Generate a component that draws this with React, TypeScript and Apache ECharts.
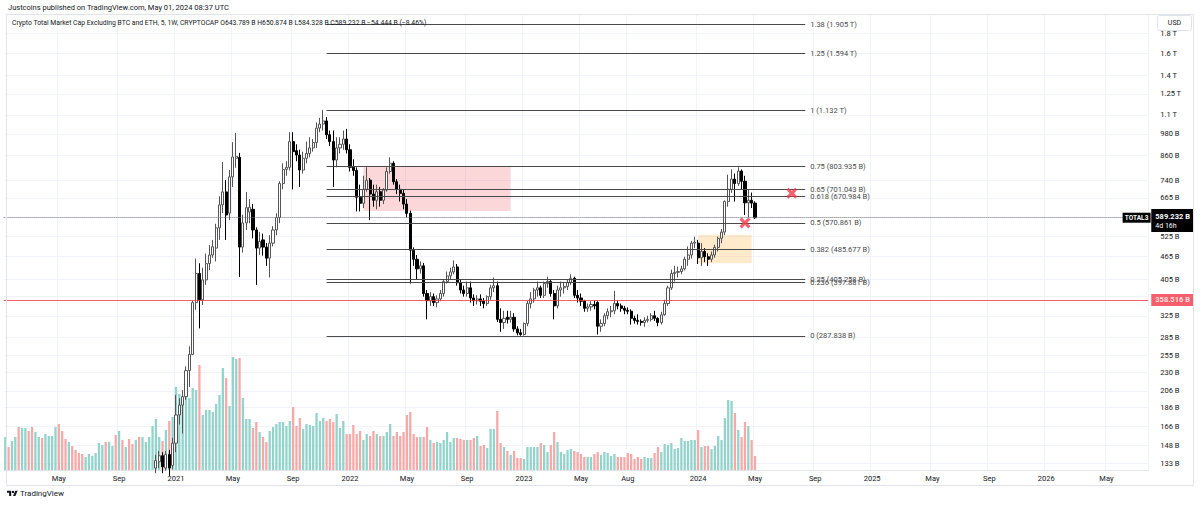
import React, { useEffect, useRef } from "react";
import * as echarts from "echarts";

// ---------- data ----------
const firstWeek = "2020-01-13";
const weekCount = 342; // includes empty future weeks on the right
const candleStartWeek = "2020-11-23";

// weekly candles [open, high, low, close] in billions USD (earlier weeks lie below the visible range)
const ohlc: [number, number, number, number][] = [
  [129, 140, 125, 135], [134, 143, 129, 139], [139, 142, 125, 130], [129, 143, 127, 140],
  [140, 144, 123, 129], [131, 155, 128, 150], [150, 201, 142, 178], [178, 197, 168, 189],
  [189, 207, 159, 199], [199, 239, 195, 233], [233, 270, 211, 257], [257, 356, 256, 352],
  [352, 460, 337, 420], [420, 447, 301, 358], [358, 435, 347, 404], [404, 474, 392, 446],
  [446, 499, 429, 470], [470, 515, 462, 494], [490, 568, 452, 554], [554, 671, 515, 637],
  [637, 826, 606, 689], [689, 741, 515, 599], [606, 787, 581, 755], [755, 932, 710, 852],
  [845, 986, 798, 855], [850, 873, 411, 493], [493, 600, 477, 571], [571, 689, 547, 626],
  [610, 660, 570, 628], [620, 640, 520, 547], [547, 556, 392, 490], [490, 540, 470, 510],
  [515, 535, 468, 493], [493, 505, 440, 461], [461, 530, 410, 505], [505, 560, 495, 547],
  [547, 605, 530, 590], [590, 735, 570, 725], [725, 820, 700, 790], [790, 830, 760, 800],
  [800, 990, 785, 935], [935, 990, 700, 880], [885, 920, 830, 862], [862, 890, 710, 787],
  [787, 880, 770, 845], [845, 935, 820, 870], [870, 960, 850, 900], [900, 950, 880, 930],
  [930, 1050, 900, 1015], [1015, 1080, 990, 1040], [1040, 1132, 1000, 1060], [1060, 1085, 950, 975],
  [975, 1000, 910, 935], [935, 1000, 710, 836], [836, 960, 800, 900], [900, 960, 870, 920],
  [920, 1000, 890, 950], [950, 1010, 870, 890], [890, 920, 780, 800], [800, 840, 760, 785],
  [785, 800, 612, 667], [667, 720, 612, 643], [643, 760, 625, 700], [700, 800, 690, 740],
  [740, 750, 581, 680], [680, 720, 630, 655], [655, 720, 620, 690], [690, 710, 630, 655],
  [655, 705, 640, 697], [697, 800, 690, 780], [780, 850, 770, 820], [820, 830, 720, 733],
  [733, 745, 680, 700], [700, 720, 650, 683], [683, 700, 620, 640], [640, 660, 590, 605],
  [605, 615, 395, 484], [484, 492, 440, 458], [458, 470, 404, 432], [432, 452, 420, 440],
  [440, 448, 365, 372], [372, 380, 318, 356], [356, 375, 345, 365], [365, 372, 345, 352],
  [352, 368, 342, 360], [360, 380, 355, 372], [372, 405, 365, 400], [400, 425, 395, 414],
  [414, 435, 405, 424], [424, 455, 418, 437], [437, 445, 390, 397], [397, 405, 372, 380],
  [380, 390, 365, 372], [372, 400, 365, 385], [385, 400, 352, 362], [362, 370, 345, 356],
  [356, 368, 348, 360], [360, 370, 345, 355], [355, 362, 340, 350], [350, 368, 345, 365],
  [365, 392, 358, 385], [385, 410, 375, 390], [390, 400, 313, 318], [318, 340, 295, 312],
  [312, 335, 300, 320], [322, 335, 310, 318], [318, 335, 312, 322], [322, 330, 295, 300],
  [300, 305, 288.5, 293], [293, 300, 287.838, 290], [290, 312, 288, 310], [310, 356, 305, 350],
  [350, 375, 340, 360], [360, 385, 352, 380], [380, 400, 365, 385], [385, 390, 362, 368],
  [368, 400, 362, 395], [395, 412, 385, 400], [400, 405, 365, 372], [372, 380, 318, 345],
  [345, 390, 340, 380], [380, 400, 365, 385], [385, 398, 372, 388], [388, 405, 380, 398],
  [398, 418, 392, 408], [408, 412, 362, 368], [368, 380, 352, 362], [362, 372, 345, 355],
  [355, 358, 333, 340], [340, 350, 333, 343], [343, 355, 335, 348], [348, 356, 338, 345],
  [352, 355, 290, 305], [305, 318, 295, 310], [310, 330, 305, 325], [325, 340, 318, 333],
  [333, 345, 322, 335], [335, 378, 328, 350], [350, 356, 338, 345], [345, 350, 333, 340],
  [340, 345, 328, 336], [336, 342, 328, 334], [334, 338, 308, 320], [320, 325, 310, 316],
  [316, 328, 308, 314], [314, 318, 306, 312], [312, 322, 304, 316], [316, 325, 312, 318],
  [318, 330, 314, 325], [325, 335, 315, 320], [320, 322, 305, 312], [312, 333, 308, 327],
  [327, 358, 325, 350], [350, 390, 345, 385], [385, 430, 380, 420], [420, 440, 400, 423],
  [423, 438, 410, 425], [425, 440, 418, 432], [432, 465, 428, 458], [458, 495, 440, 470],
  [470, 512, 460, 505], [505, 525, 490, 508], [505, 515, 445, 462], [462, 505, 440, 480],
  [480, 490, 450, 465], [465, 475, 440, 458], [458, 480, 450, 470], [470, 500, 462, 492],
  [492, 525, 480, 520], [520, 550, 505, 540], [540, 655, 530, 650], [650, 765, 630, 700],
  [700, 790, 685, 745], [745, 770, 650, 725], [725, 800, 715, 782], [782, 790, 700, 735],
  [735, 760, 599, 645], [645, 700, 590, 655], [655, 686, 625, 643.789], [643.789, 650.874, 584.328, 589.232],
];

// weekly volume (relative units), from the first week
const volumes = [
  33, 23, 29, 33, 43, 42, 42, 39, 43, 38, 33, 32, 36, 34, 34, 43, 46, 39, 31, 28,
  24, 20, 17, 16, 13, 16, 14, 17, 27, 25, 28, 28, 24, 35, 39, 30, 23, 31, 26, 30,
  33, 33, 28, 33, 44, 51, 33, 29, 40, 49, 53, 83, 76, 70, 81, 72, 82, 80, 105, 55,
  60, 60, 58, 66, 75, 102, 92, 64, 113, 111, 112, 72, 51, 51, 42, 48, 38, 33, 28, 39,
  43, 46, 48, 48, 44, 49, 63, 44, 52, 41, 46, 45, 44, 57, 49, 52, 49, 51, 48, 56,
  42, 49, 36, 36, 45, 36, 39, 30, 36, 34, 39, 36, 34, 34, 38, 46, 34, 38, 34, 38,
  55, 58, 36, 33, 33, 33, 43, 30, 27, 28, 27, 30, 38, 28, 32, 32, 31, 30, 30, 30,
  32, 34, 24, 25, 22, 41, 41, 59, 27, 23, 19, 15, 19, 12, 12, 11, 23, 23, 23, 23,
  27, 25, 18, 25, 38, 28, 18, 16, 20, 21, 19, 18, 16, 13, 13, 13, 16, 18, 15, 18,
  17, 14, 16, 13, 13, 13, 17, 16, 11, 13, 11, 13, 12, 12, 17, 23, 18, 26, 25, 27,
  21, 22, 32, 29, 29, 30, 30, 40, 23, 24, 24, 21, 24, 34, 30, 52, 70, 69, 57, 40,
  33, 48, 44, 30, 14,
];
// direction of the weeks whose candles are below the visible range
const hiddenWeekDirections = "uduuduuddu" + "uduuuudddu" + "dddduuuuuu" + "duudududdu" + "duuuuu";

// price grid levels; the labels of 365 B and 590 B sit under the price tags
const priceGridLevels = [133, 148, 166, 186, 206, 230, 255, 285, 325, 365, 405, 465, 525, 590, 665, 740, 860, 980, 1100, 1250, 1400, 1600, 1800];
const priceLabelLevels = [133, 148, 166, 186, 206, 230, 255, 285, 325, 405, 465, 525, 665, 740, 860, 980, 1100, 1250, 1400, 1600, 1800];

const timeTicks: [string, string][] = [
  ["2020-05-04", "May"], ["2020-09-07", "Sep"], ["2021-01-04", "2021"], ["2021-05-03", "May"],
  ["2021-09-06", "Sep"], ["2022-01-03", "2022"], ["2022-05-02", "May"], ["2022-09-05", "Sep"],
  ["2023-01-02", "2023"], ["2023-05-01", "May"], ["2023-08-07", "Aug"], ["2024-01-01", "2024"],
  ["2024-04-29", "May"], ["2024-09-02", "Sep"], ["2024-12-30", "2025"], ["2025-05-05", "May"],
  ["2025-09-01", "Sep"], ["2025-12-29", "2026"], ["2026-05-04", "May"],
];

const fibLevels: [string, number][] = [
  ["1.38 (1.905 T)", 1905], ["1.25 (1.594 T)", 1594], ["1 (1.132 T)", 1132],
  ["0.75 (803.935 B)", 803.935], ["0.65 (701.043 B)", 701.043], ["0.618 (670.984 B)", 670.984],
  ["0.5 (570.861 B)", 570.861], ["0.382 (485.677 B)", 485.677], ["0.25 (405.258 B)", 405.258],
  ["0.236 (397.881 B)", 397.881], ["0 (287.838 B)", 287.838],
];
const fibStartWeek = "2021-11-15";
const fibEndWeek = "2024-08-12";

const supplyZone = { from: "2022-01-31", to: "2022-12-05", top: 803, bottom: 614 };
const demandZone = { from: "2024-01-01", to: "2024-04-22", top: 531, bottom: 447 };
const crossMarks: [string, number][] = [["2024-07-15", 684], ["2024-04-08", 571]];

const lastPrice = 589.232;
const redLevel = 358.516;
const priceMin = 127.47;
const priceMax = 2028.3;

// ---------- helpers ----------
const ln = Math.log;
const categories: string[] = [];
{
  const start = Date.parse(firstWeek + "T00:00:00Z");
  for (let i = 0; i < weekCount; i++) categories.push(new Date(start + i * 7 * 86400000).toISOString().slice(0, 10));
}
const idx = (d: string) => categories.indexOf(d);
const fmtPrice = (v: number) => (v >= 1000 ? `${+(v / 1000).toFixed(3)} T` : `${v} B`);
const FONT = "Roboto, 'Noto Sans', sans-serif";

const LOGO = "M14 22H7V11H0V4h14v18zM28 22h-8l7.5-18h8L28 22zM24 8a4 4 0 1 1-8 0a4 4 0 1 1 8 0z";

export default function App() {
  const ref = useRef<HTMLDivElement>(null);
  useEffect(() => {
    if (!ref.current) return;
    try {
      echarts.graphic.registerShape("tvlogo", echarts.graphic.extendPath(LOGO, {}) as any);
    } catch (e) {}
    const chart = echarts.init(ref.current, undefined, { renderer: "svg" });
    const offset = idx(candleStartWeek);
    const candleData = categories.map((_, i) => {
      const j = i - offset;
      if (j >= 0 && j < ohlc.length) {
        const [o, h, l, c] = ohlc[j];
        return [ln(o), ln(c), ln(l), ln(h)];
      }
      return "-";
    });
    const volData = volumes.map((v, i) => {
      const j = i - offset;
      const up = j >= 0 ? ohlc[j][3] >= ohlc[j][0] : hiddenWeekDirections[i] === "u";
      return { value: v, itemStyle: { color: up ? "#92d3cc" : "#f7a9a8" } };
    });
    const tickMap = new Map(timeTicks);
    const isTick = (_: number, v: string) => tickMap.has(v);

    const fibLines = fibLevels.map(([label, v]) => [
      {
        coord: [idx(fibStartWeek), ln(v)],
        lineStyle: { color: "#4a4a4a", width: 1, type: "solid" },
        label: { show: true, position: "end", formatter: label, color: "#4a4a4a", fontSize: 7.5, fontFamily: FONT, distance: 5 },
      },
      { coord: [idx(fibEndWeek), ln(v)] },
    ]);

    const W = 1144.674;
    const grid = { left: 3.6, top: 14, width: W, height: 456 };

    const option: any = {
      animation: false,
      backgroundColor: "#ffffff",
      grid: [grid, { ...grid }],
      xAxis: [
        {
          type: "category",
          gridIndex: 0,
          data: categories,
          boundaryGap: true,
          axisLine: { show: true, lineStyle: { color: "#e0e3eb" } },
          axisTick: { show: false },
          axisLabel: {
            interval: isTick,
            formatter: (v: string) => tickMap.get(v) ?? "",
            color: "#131722",
            fontSize: 7.5,
            fontFamily: FONT,
            margin: 4,
            hideOverlap: false,
          },
          splitLine: { show: true, interval: isTick, lineStyle: { color: "#f0f3fa", width: 1 } },
        },
        { type: "category", gridIndex: 1, data: categories, boundaryGap: true, show: false },
      ],
      yAxis: [
        {
          type: "value",
          gridIndex: 0,
          position: "right",
          min: ln(priceMin),
          max: ln(priceMax),
          axisLine: { show: false },
          axisTick: { show: false, customValues: priceGridLevels.map(ln) },
          axisLabel: {
            customValues: priceLabelLevels.map(ln),
            formatter: (val: number) => {
              const p = Math.exp(val);
              const t = priceLabelLevels.reduce((a, b) => (Math.abs(b - p) < Math.abs(a - p) ? b : a));
              return fmtPrice(t);
            },
            color: "#131722",
            fontSize: 7.5,
            fontFamily: FONT,
            margin: 12,
            hideOverlap: false,
          },
          splitLine: { show: true, lineStyle: { color: "#f0f3fa", width: 1 } },
        },
        { type: "value", gridIndex: 1, min: 0, max: 456, show: false, splitLine: { show: false } },
      ],
      series: [
        {
          type: "bar",
          xAxisIndex: 1,
          yAxisIndex: 1,
          data: volData,
          barWidth: "68%",
          silent: true,
          z: 1,
        },
        {
          type: "candlestick",
          xAxisIndex: 0,
          yAxisIndex: 0,
          data: candleData,
          barWidth: 2.6,
          silent: true,
          z: 3,
          itemStyle: {
            color: "#ffffff",
            color0: "#000000",
            borderColor: "#555555",
            borderColor0: "#000000",
            borderWidth: 1,
          },
          markArea: {
            silent: true,
            data: [
              [
                { coord: [idx(supplyZone.from), ln(supplyZone.top)], itemStyle: { color: "rgba(242,54,69,0.2)" } },
                { coord: [idx(supplyZone.to), ln(supplyZone.bottom)] },
              ],
              [
                { coord: [idx(demandZone.from), ln(demandZone.top)], itemStyle: { color: "rgba(255,152,0,0.2)" } },
                { coord: [idx(demandZone.to), ln(demandZone.bottom)] },
              ],
            ],
          },
          markLine: {
            silent: true,
            symbol: ["none", "none"],
            animation: false,
            data: [
              ...fibLines,
              {
                yAxis: ln(redLevel),
                lineStyle: { color: "#f23645", width: 1, type: "solid", opacity: 0.8 },
                label: {
                  show: true,
                  position: "end",
                  distance: 3,
                  formatter: fmtPrice(redLevel),
                  backgroundColor: "#f23645",
                  color: "#ffffff",
                  fontSize: 7.5,
                  fontWeight: "bold",
                  fontFamily: FONT,
                  padding: [2, 4, 2, 4],
                },
              },
              {
                yAxis: ln(lastPrice),
                lineStyle: { color: "#787b86", width: 1, type: "dotted" },
                label: {
                  show: true,
                  position: "end",
                  distance: 3,
                  formatter: `{a|${fmtPrice(lastPrice)}}\n{b|4d 16h}`,
                  backgroundColor: "#000000",
                  padding: [2, 4, 2, 4],
                  offset: [0, 3],
                  rich: {
                    a: { color: "#ffffff", fontSize: 7.5, fontWeight: "bold", fontFamily: FONT, lineHeight: 10 },
                    b: { color: "#ffffff", fontSize: 7, fontFamily: FONT, lineHeight: 9 },
                  },
                },
              },
            ],
          },
          markPoint: {
            silent: true,
            data: [
              {
                coord: [weekCount - 1, ln(lastPrice)],
                symbol: "rect",
                symbolSize: [28, 10],
                symbolOffset: [-10, 0],
                itemStyle: { color: "#000000" },
                label: { show: true, position: "inside", formatter: "TOTAL3", color: "#ffffff", fontSize: 6.5, fontWeight: "bold", fontFamily: FONT },
              },
            ],
          },
        },
        {
          type: "scatter",
          xAxisIndex: 0,
          yAxisIndex: 0,
          silent: true,
          z: 6,
          symbol: "path://M2,0 L5,3 L8,0 L10,2 L7,5 L10,8 L8,10 L5,7 L2,10 L0,8 L3,5 L0,2 Z",
          symbolSize: 11,
          itemStyle: { color: "#f23645" },
          data: crossMarks.map(([d, v]) => [idx(d), ln(v)]),
        },
      ],
      graphic: [
        {
          type: "text",
          left: 8,
          top: 3,
          silent: true,
          style: { text: "Justcoins published on TradingView.com, May 01, 2024 08:37 UTC", fill: "#131722", font: `7.5px ${FONT}` },
        },
        {
          type: "rect",
          silent: true,
          shape: { x: 6.5, y: 14.5, width: 1187, height: 471 },
          style: { fill: "none", stroke: "#e0e3eb", lineWidth: 1 },
          z: 10,
        },
        {
          type: "text",
          left: 12,
          top: 19.5,
          silent: true,
          z: 10,
          style: {
            text: "Crypto Total Market Cap Excluding BTC and ETH, 5, 1W, CRYPTOCAP O643.789 B H650.874 B L584.328 B C589.232 B \u221254.444 B (\u22128.46%)",
            fill: "#131722",
            font: `6.8px ${FONT}`,
          },
        },
        {
          type: "rect",
          silent: true,
          z: 10,
          shape: { x: 1157.5, y: 15.5, width: 34, height: 15, r: 2 },
          style: { fill: "#ffffff", stroke: "#e0e3eb", lineWidth: 1 },
        },
        {
          type: "text",
          silent: true,
          z: 11,
          x: 1174.5,
          y: 23,
          style: { text: "USD", fill: "#131722", font: `7px ${FONT}`, align: "center", verticalAlign: "middle" },
        },
        {
          type: "tvlogo",
          silent: true,
          x: 7,
          y: 489.5,
          scaleX: 0.3,
          scaleY: 0.3,
          style: { fill: "#131722" },
        },
        {
          type: "text",
          left: 20,
          top: 489,
          silent: true,
          style: { text: "TradingView", fill: "#131722", font: `8px ${FONT}` },
        },
      ],
    };
    chart.setOption(option);
    return () => chart.dispose();
  }, []);
  return (
    <div
      ref={ref}
      style={{ position: "fixed", left: 0, top: 0, width: 1200, height: 505, background: "#ffffff" }}
    />
  );
}
